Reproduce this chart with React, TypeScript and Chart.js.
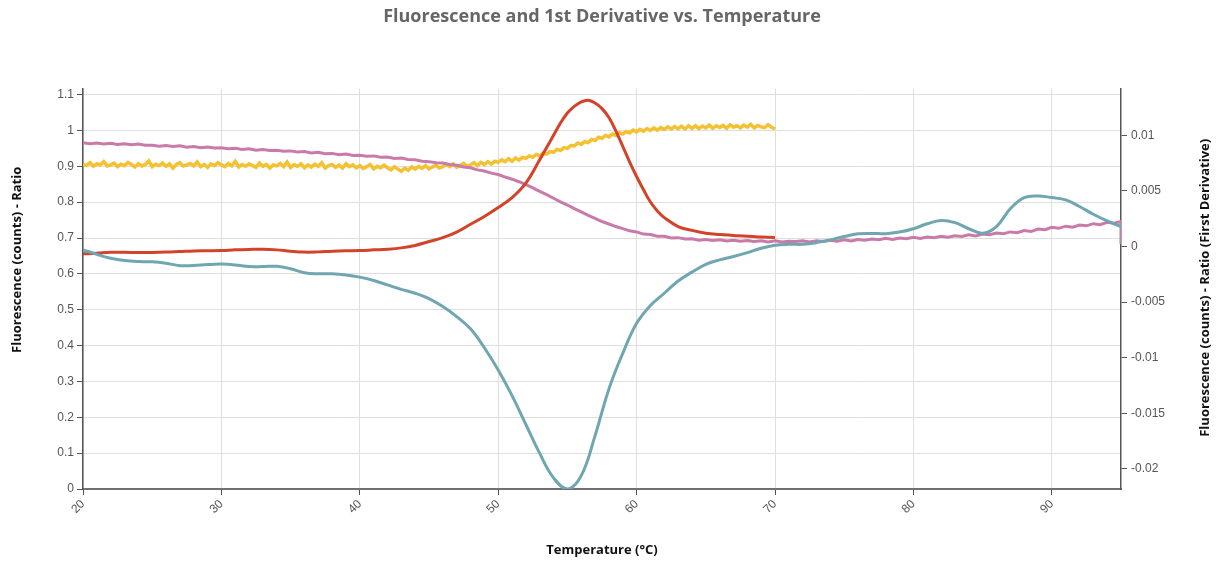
import React, { useEffect, useRef } from "react";
import { Chart, registerables } from "chart.js";

Chart.register(...registerables);

const TITLE = "Fluorescence and 1st Derivative vs. Temperature";
const X_TITLE = "Temperature (°C)";
const Y_LEFT_TITLE = "Fluorescence (counts) - Ratio";
const Y_RIGHT_TITLE = "Fluorescence (counts) - Ratio (First Derivative)";

const xTicks = [20, 30, 40, 50, 60, 70, 80, 90];
const leftTicks = [0, 0.1, 0.2, 0.3, 0.4, 0.5, 0.6, 0.7, 0.8, 0.9, 1, 1.1];
const rightTicks = [-0.02, -0.015, -0.01, -0.005, 0, 0.005, 0.01];

const X_MIN = 20;
const X_MAX = 95;
const LEFT_MIN = 0;
const LEFT_MAX = 1.1167;
const RIGHT_MIN = -0.0218;
const RIGHT_MAX = 0.0142;

// Fluorescence ratio (yellow), 20 -> 70 °C every 0.25 °C
const yellowStart = 20;
const yellowStep = 0.25;
const yellowValues = [
  0.906, 0.902, 0.910, 0.900, 0.907, 0.904, 0.913, 0.901,
  0.904, 0.909, 0.899, 0.906, 0.902, 0.911, 0.905, 0.898,
  0.907, 0.901, 0.905, 0.915, 0.899, 0.906, 0.902, 0.909,
  0.900, 0.907, 0.895, 0.905, 0.910, 0.901, 0.904, 0.908,
  0.901, 0.912, 0.899, 0.905, 0.897, 0.907, 0.902, 0.910,
  0.904, 0.899, 0.908, 0.901, 0.914, 0.898, 0.905, 0.900,
  0.907, 0.902, 0.897, 0.909, 0.900, 0.905, 0.895, 0.904,
  0.901, 0.908, 0.899, 0.912, 0.897, 0.904, 0.900, 0.907,
  0.896, 0.904, 0.898, 0.906, 0.900, 0.910, 0.895, 0.902,
  0.905, 0.897, 0.903, 0.895, 0.907, 0.899, 0.904, 0.896,
  0.902, 0.894, 0.899, 0.905, 0.893, 0.900, 0.896, 0.903,
  0.896, 0.890, 0.899, 0.892, 0.886, 0.895, 0.889, 0.898,
  0.892, 0.900, 0.894, 0.902, 0.893, 0.898, 0.903, 0.895,
  0.899, 0.905, 0.899, 0.907, 0.897, 0.903, 0.908, 0.900,
  0.904, 0.910, 0.902, 0.911, 0.905, 0.913, 0.906, 0.914,
  0.911, 0.918, 0.913, 0.921, 0.914, 0.923, 0.917, 0.925,
  0.922, 0.929, 0.925, 0.933, 0.929, 0.937, 0.934, 0.941,
  0.939, 0.947, 0.944, 0.952, 0.950, 0.958, 0.957, 0.965,
  0.961, 0.969, 0.966, 0.975, 0.972, 0.981, 0.978, 0.986,
  0.982, 0.990, 0.986, 0.994, 0.990, 0.997, 0.993, 1.001,
  0.996, 1.003, 0.998, 1.005, 1.000, 1.007, 1.001, 1.008,
  1.003, 1.010, 1.004, 1.011, 1.005, 1.012, 1.004, 1.013,
  1.006, 1.013, 1.005, 1.012, 1.007, 1.015, 1.006, 1.013,
  1.008, 1.014, 1.006, 1.016, 1.009, 1.013, 1.007, 1.015,
  1.009, 1.017, 1.007, 1.014, 1.010, 1.008, 1.016, 1.009,
  1.004,
];

// Fluorescence ratio (pink), 20 -> 95 °C every 0.5 °C
const pinkStart = 20;
const pinkStep = 0.5;
const pinkValues = [
  0.966, 0.963, 0.965, 0.962, 0.964, 0.961, 0.963, 0.960, 0.962, 0.959,
  0.959, 0.956, 0.958, 0.955, 0.957, 0.953, 0.955, 0.952, 0.954, 0.951,
  0.952, 0.949, 0.950, 0.947, 0.949, 0.945, 0.947, 0.944, 0.945, 0.942,
  0.943, 0.940, 0.941, 0.937, 0.939, 0.935, 0.936, 0.932, 0.934, 0.930,
  0.931, 0.928, 0.929, 0.925, 0.926, 0.922, 0.923, 0.919, 0.918, 0.914,
  0.913, 0.910, 0.909, 0.905, 0.903, 0.898, 0.896, 0.890, 0.887, 0.881,
  0.877, 0.870, 0.864, 0.857, 0.849, 0.840, 0.830, 0.821, 0.811, 0.801,
  0.792, 0.782, 0.773, 0.763, 0.755, 0.746, 0.739, 0.732, 0.726, 0.720,
  0.717, 0.711, 0.710, 0.705, 0.705, 0.700, 0.701, 0.697, 0.698, 0.694,
  0.696, 0.693, 0.695, 0.692, 0.694, 0.691, 0.693, 0.690, 0.692, 0.689,
  0.692, 0.689, 0.691, 0.690, 0.692, 0.689, 0.692, 0.690, 0.694, 0.691,
  0.695, 0.692, 0.696, 0.694, 0.697, 0.695, 0.699, 0.696, 0.700, 0.698,
  0.702, 0.699, 0.703, 0.701, 0.705, 0.702, 0.706, 0.704, 0.709, 0.706,
  0.711, 0.709, 0.714, 0.712, 0.717, 0.715, 0.721, 0.718, 0.725, 0.723,
  0.730, 0.727, 0.733, 0.730, 0.736, 0.734, 0.740, 0.737, 0.744, 0.741,
  0.746,
];
const pinkEndTemp = 95;
const pinkEndDrop = 0.683;

// First derivative of yellow (red)
const redTemps = [
  20, 21, 22, 23, 24, 25, 26, 27, 28, 29,
  30, 31, 32, 33, 34, 35, 36, 37, 38, 39,
  40, 41, 42, 43, 44, 45, 46, 47, 48, 49,
  50, 51, 52, 53, 53.5, 54, 54.5, 55, 55.5, 56,
  56.5, 57, 57.5, 58, 58.5, 59, 59.5, 60, 60.5, 61,
  61.5, 62, 63, 64, 65, 66, 67, 68, 69, 70,
];
const redValues = [
  -0.00066, -0.0006, -0.00052, -0.00052, -0.00054, -0.00053, -0.0005, -0.00045, -0.0004, -0.00038,
  -0.00036, -0.0003, -0.00026, -0.00024, -0.0003, -0.00042, -0.0005, -0.00048, -0.00042, -0.00038,
  -0.00036, -0.0003, -0.00024, -0.00012, 0.0001, 0.00045, 0.0008, 0.0013, 0.002, 0.0027,
  0.0035, 0.0044, 0.0057, 0.0078, 0.0089, 0.01, 0.0111, 0.012, 0.0126, 0.013,
  0.01315, 0.0129, 0.0124, 0.0116, 0.0104, 0.009, 0.0076, 0.0063, 0.0051, 0.004,
  0.0032, 0.0026, 0.0018, 0.00145, 0.0012, 0.00108, 0.001, 0.00092, 0.00086, 0.00081,
];

// First derivative of pink (teal), 20 -> 95 °C every 1 °C
const tealStart = 20;
const tealStep = 1;
const tealValues = [
  -0.0003, -0.0007, -0.00105, -0.00126, -0.00135, -0.00137, -0.0015, -0.00172, -0.0017, -0.00162,
  -0.00158, -0.00165, -0.0018, -0.0018, -0.00178, -0.002, -0.00235, -0.00245, -0.00245, -0.00255,
  -0.00275, -0.00305, -0.00345, -0.00385, -0.0042, -0.00468, -0.0054, -0.0063, -0.0074, -0.0091,
  -0.0111, -0.0134, -0.016, -0.0186, -0.0208, -0.0218, -0.0206, -0.017, -0.0128, -0.0096,
  -0.0069, -0.0053, -0.0042, -0.0031, -0.0023, -0.0016, -0.0012, -0.0009, -0.00055, -0.00015,
  0.00012, 0.0002, 0.0002, 0.00035, 0.0006, 0.0009, 0.00114, 0.00118, 0.00115, 0.0013,
  0.0016, 0.00205, 0.00235, 0.00215, 0.0016, 0.0012, 0.0018, 0.0034, 0.0044, 0.00455,
  0.0044, 0.0042, 0.0036, 0.0029, 0.0023, 0.0018,
];

const COLORS = {
  yellow: "#f3c132",
  pink: "#c97aa9",
  red: "#d2432a",
  teal: "#6fa6b1",
};

const toPoints = (start: number, step: number, values: number[]) =>
  values.map((v, i) => ({ x: start + i * step, y: v }));

const TICK_FONT = { family: "'Liberation Sans', Arial, sans-serif", size: 12 };
const TICK_COLOR = "#555";
const GRID_COLOR = "#dedede";
const AXIS_COLOR = "#555";

const yTitlesPlugin = {
  id: "yTitles",
  afterDraw(chart: any) {
    const { ctx, chartArea } = chart;
    const midY = (chartArea.top + chartArea.bottom) / 2;
    ctx.save();
    ctx.font = "bold 13px 'Open Sans', sans-serif";
    ctx.fillStyle = "#111";
    ctx.textAlign = "center";
    ctx.textBaseline = "middle";
    ctx.save();
    ctx.translate(chartArea.left - 66, midY - 29);
    ctx.rotate(-Math.PI / 2);
    ctx.fillText(Y_LEFT_TITLE, 0, 0);
    ctx.restore();
    ctx.save();
    ctx.translate(chartArea.right + 84, midY - 1);
    ctx.rotate(-Math.PI / 2);
    ctx.fillText(Y_RIGHT_TITLE, 0, 0);
    ctx.restore();
    ctx.restore();
  },
};

export default function App() {
  const canvasRef = useRef<HTMLCanvasElement | null>(null);

  useEffect(() => {
    const canvas = canvasRef.current;
    if (!canvas) return;
    const yellow = toPoints(yellowStart, yellowStep, yellowValues);
    const pink = toPoints(pinkStart, pinkStep, pinkValues);
    pink.push({ x: pinkEndTemp, y: pinkEndDrop });
    const red = redTemps.map((t, i) => ({ x: t, y: redValues[i] }));
    const teal = toPoints(tealStart, tealStep, tealValues);

    const chart = new Chart(canvas, {
      type: "line",
      data: {
        datasets: [
          {
            label: "Fluorescence (yellow)",
            data: yellow,
            yAxisID: "y",
            borderColor: COLORS.yellow,
            borderWidth: 3.5,
            pointRadius: 0,
            tension: 0,
            order: 3,
          },
          {
            label: "Fluorescence (pink)",
            data: pink,
            yAxisID: "y",
            borderColor: COLORS.pink,
            borderWidth: 3,
            pointRadius: 0,
            tension: 0,
            order: 2,
          },
          {
            label: "First derivative (red)",
            data: red,
            yAxisID: "y1",
            borderColor: COLORS.red,
            borderWidth: 3,
            pointRadius: 0,
            tension: 0.4,
            order: 1,
          },
          {
            label: "First derivative (teal)",
            data: teal,
            yAxisID: "y1",
            borderColor: COLORS.teal,
            borderWidth: 3,
            pointRadius: 0,
            tension: 0.4,
            order: 0,
          },
        ],
      },
      options: {
        responsive: false,
        animation: false,
        devicePixelRatio: 1,
        layout: { padding: 0 },
        plugins: {
          legend: { display: false },
          tooltip: { enabled: false },
          title: {
            display: true,
            text: TITLE,
            fullSize: false,
            color: "#666",
            font: { family: "'Open Sans', sans-serif", size: 18, weight: "bold" },
            padding: { top: 6, bottom: 61 },
          },
        },
        scales: {
          x: {
            type: "linear",
            min: X_MIN,
            max: X_MAX,
            afterBuildTicks: (scale: any) => {
              scale.ticks = xTicks.map((v) => ({ value: v }));
            },
            afterFit: (scale: any) => {
              scale.height = 75;
            },
            ticks: {
              color: TICK_COLOR,
              font: TICK_FONT,
              minRotation: 45,
              maxRotation: 45,
              padding: 2,
              callback: (v: any) => String(v),
            },
            grid: {
              color: GRID_COLOR,
              tickColor: AXIS_COLOR,
              tickLength: 6,
            },
            border: { color: "#707070", width: 2 },
            title: {
              display: true,
              text: X_TITLE,
              color: "#111",
              font: { family: "'Open Sans', sans-serif", size: 13, weight: "bold" },
              padding: { top: 0, bottom: 6 },
            },
          },
          y: {
            type: "linear",
            position: "left",
            min: LEFT_MIN,
            max: LEFT_MAX,
            afterBuildTicks: (scale: any) => {
              scale.ticks = leftTicks.map((v) => ({ value: v }));
            },
            afterFit: (scale: any) => {
              scale.width = 83;
            },
            ticks: {
              color: TICK_COLOR,
              font: TICK_FONT,
              padding: 3,
              callback: (v: any) => String(v),
            },
            grid: {
              color: GRID_COLOR,
              tickColor: AXIS_COLOR,
              tickLength: 6,
            },
            border: { color: AXIS_COLOR, width: 1.5 },
          },
          y1: {
            type: "linear",
            position: "right",
            min: RIGHT_MIN,
            max: RIGHT_MAX,
            afterBuildTicks: (scale: any) => {
              scale.ticks = rightTicks.map((v) => ({ value: v }));
            },
            afterFit: (scale: any) => {
              scale.width = 100;
            },
            ticks: {
              color: TICK_COLOR,
              font: TICK_FONT,
              padding: 4,
              callback: (v: any) => String(v),
            },
            grid: {
              drawOnChartArea: false,
              color: AXIS_COLOR,
              tickColor: AXIS_COLOR,
              tickLength: 6,
            },
            border: { color: AXIS_COLOR, width: 1.5 },
          },
        },
      },
      plugins: [yTitlesPlugin],
    });
    return () => chart.destroy();
  }, []);

  return (
    <div style={{ position: "absolute", left: 0, top: 0, width: 1221, height: 564, background: "#fff" }}>
      <canvas ref={canvasRef} width={1221} height={564} style={{ display: "block" }} />
    </div>
  );
}
